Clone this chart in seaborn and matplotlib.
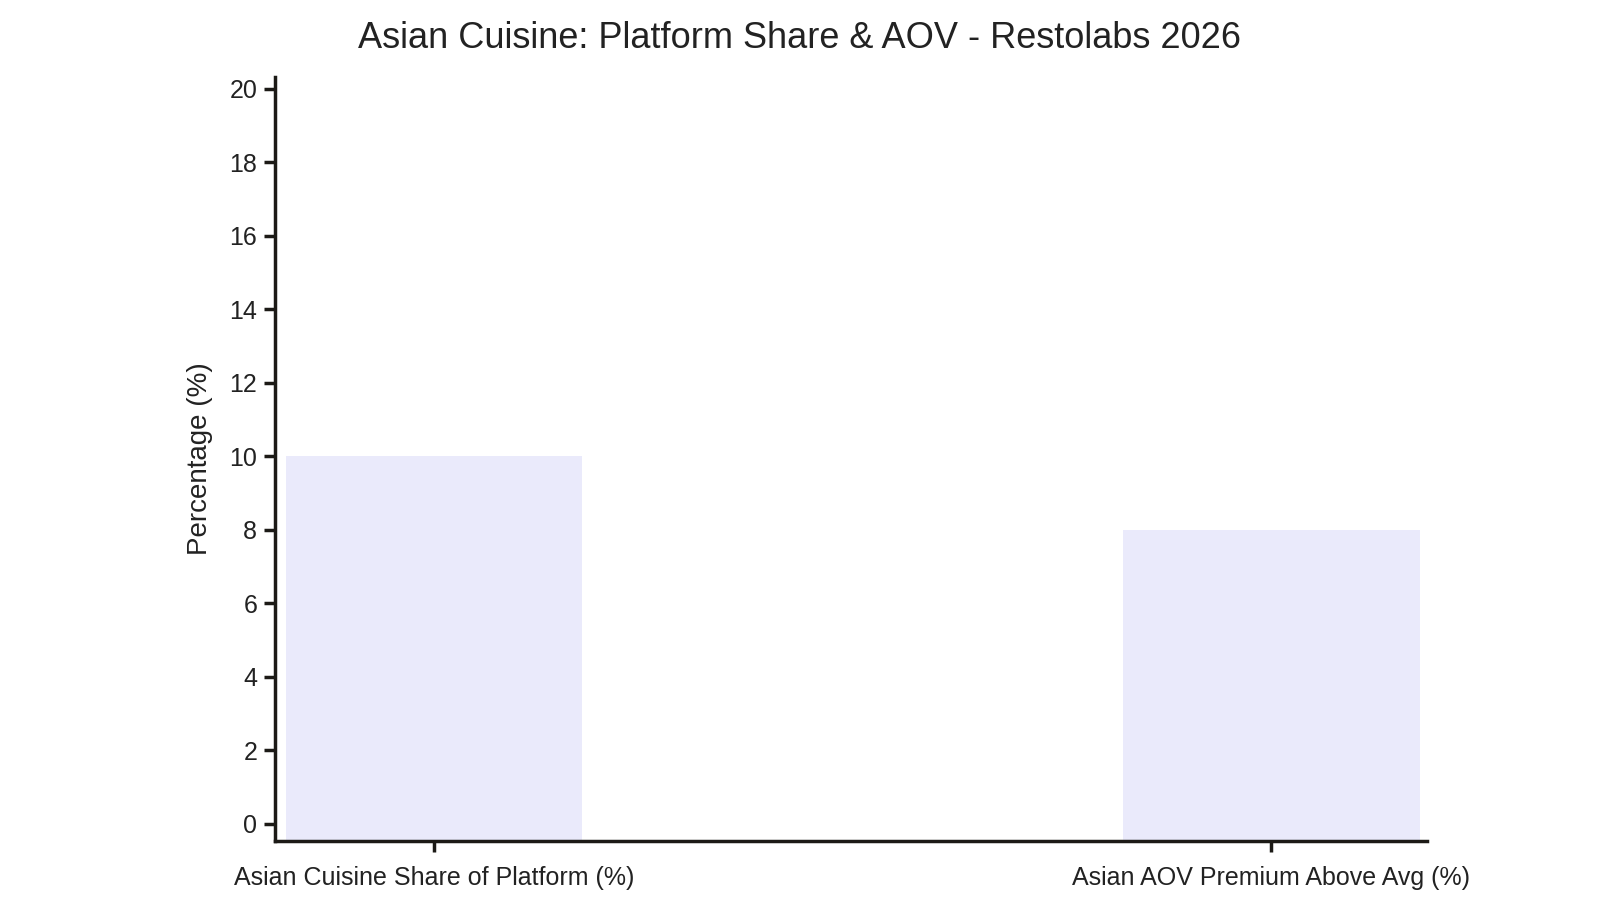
import matplotlib
matplotlib.use("Agg")
import matplotlib.pyplot as plt
import seaborn as sns
import pandas as pd

# chart data
categories = ["Asian Cuisine Share of Platform (%)", "Asian AOV Premium Above Avg (%)"]
values = [10, 8]
y_ticks = list(range(0, 21, 2))

df = pd.DataFrame({"Metric": categories, "Percentage": values})

sns.set_style("ticks")
plt.rcParams["font.family"] = ["Liberation Sans", "DejaVu Sans"]

fig = plt.figure(figsize=(16, 9), dpi=100)
ax = fig.add_axes([0.172, 0.0656, 0.72, 0.8494])

sns.barplot(data=df, x="Metric", y="Percentage", color="#EAEAFB",
            saturation=1, width=0.354, ax=ax)

ax.set_xlim(-0.19, 1.186)
ax.set_ylim(-0.47, 20.33)

# bars run down to the axis floor like in the original
ylo = ax.get_ylim()[0]
for p in ax.patches:
    p.set_height(p.get_y() + p.get_height() - ylo)
    p.set_y(ylo)
    p.set_edgecolor("none")

ax.set_yticks(y_ticks)
ax.set_xlabel("")
ax.set_ylabel("Percentage (%)", fontsize=20, color="#222222", labelpad=12)
ax.tick_params(axis="both", colors="#1c1a16", width=2.5, length=8, labelsize=18,
               labelcolor="#222222")
ax.tick_params(axis="y", pad=5)
ax.tick_params(axis="x", pad=10)

sns.despine(ax=ax)
for s in ["left", "bottom"]:
    ax.spines[s].set_linewidth(2.5)
    ax.spines[s].set_color("#1c1a16")

fig.suptitle("Asian Cuisine: Platform Share & AOV - Restolabs 2026",
             x=0.5, y=0.977, fontsize=26, color="#222222")

fig.savefig("out.png", dpi=100)
